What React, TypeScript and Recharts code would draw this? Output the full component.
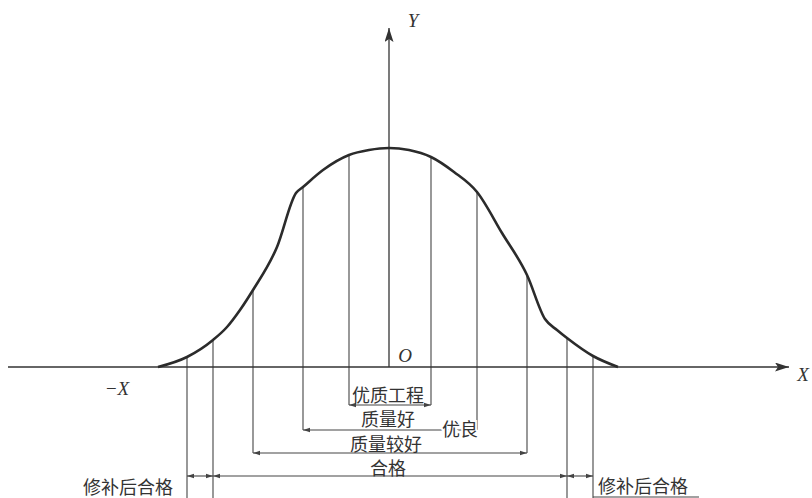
import {
  ComposedChart,
  Line,
  XAxis,
  YAxis,
  ReferenceLine,
  ReferenceDot,
} from "recharts";

// bell curve (x: offset from O, y: height above the X axis)
const curveX = [-23.1, -20.2, -17.6, -16.2, -14.9, -13.6, -11.2, -9.3, -8.6, -6.6, -4.0, -2.0, 0, 2.0, 4.2, 6.5, 8.8, 11.3, 13.8, 15.6, 16.8, 17.8, 20.4, 22.9];
const curveY = [0, 1.0, 2.7, 4.0, 5.7, 7.7, 12.0, 17.4, 18.0, 19.7, 21.2, 21.7, 21.9, 21.7, 21.0, 19.5, 17.5, 13.4, 9.2, 4.8, 3.7, 2.9, 1.1, 0];

// vertical cut lines: position and how far down they reach
const cutX = [-20.2, -17.6, -13.6, -8.6, -4.0, 4.2, 8.8, 13.8, 17.8, 20.4];
const cutFoot = [-13.1, -13.1, -8.6, -6.3, -3.8, -3.8, -6.3, -8.6, -13.1, -13.1];

// grade bands (dimension lines under the axis)
const bandNames = ["优质工程", "质量好", "质量较好", "合格"];
const bandFrom = [-4.0, -8.6, -13.6, -17.6];
const bandTo = [4.2, 8.8, 13.8, 17.8];
const bandLevel = [-3.8, -6.3, -8.6, -10.9];

const repairName = "修补后合格";
const repairFrom = [-20.2, 17.8];
const repairTo = [-17.6, 20.4];

const groupName = "优良";

const X_DOMAIN = [-38.9, 42.3];
const Y_DOMAIN = [-13.1, 36.7];
const X_END = 40.0;
const X_START = -38.1;
const Y_END = 33.9;

const INK = "#333";
const CJK = "'Noto Sans CJK SC', 'Noto Sans', sans-serif";
const SERIF = "'Liberation Serif', 'DejaVu Serif', serif";

const data = curveX.map((x, i) => ({ x, y: curveY[i] }));
const heightAt = (x: number) => curveY[curveX.indexOf(x)];

// label nudges (px) for the band names, in bandNames order
const bandDx = [-2, -2, -4, -2];
const bandDy = [-11, -12, -10, -9];

const axisShape = (p: any) => (
  <line x1={p.x1} y1={p.y1} x2={p.x2} y2={p.y2} stroke={INK} strokeWidth={1.3} markerEnd="url(#axis-arrow)" />
);
const dimShape = (p: any) => (
  <line
    x1={p.x1}
    y1={p.y1}
    x2={p.x2}
    y2={p.y2}
    stroke="#444"
    strokeWidth={1.1}
    markerStart="url(#dim-arrow)"
    markerEnd="url(#dim-arrow)"
  />
);
const plainShape = (p: any) => (
  <line x1={p.x1} y1={p.y1} x2={p.x2} y2={p.y2} stroke="#444" strokeWidth={1.1} />
);

const textShape =
  (value: string, opts: { dx?: number; dy?: number; anchor?: string; serif?: boolean; mask?: boolean }) =>
  (p: any) => (
    <text
      x={p.cx + (opts.dx ?? 0)}
      y={p.cy + (opts.dy ?? 0)}
      textAnchor={opts.anchor ?? "middle"}
      dominantBaseline="central"
      fontFamily={opts.serif ? SERIF : CJK}
      fontStyle={opts.serif ? "italic" : "normal"}
      fontSize={opts.serif ? 19 : 18}
      fill={INK}
      stroke={opts.mask ? "#fff" : "none"}
      strokeWidth={opts.mask ? 4 : 0}
      paintOrder="stroke"
    >
      {value}
    </text>
  );

export default function App() {
  return (
    <div style={{ position: "absolute", left: 0, top: 0, background: "#fff" }}>
      <ComposedChart width={812} height={498} data={data} margin={{ top: 0, right: 0, bottom: 0, left: 0 }}>
        <defs>
          <marker id="axis-arrow" markerWidth={15} markerHeight={10} refX={14} refY={4.5} orient="auto" markerUnits="userSpaceOnUse">
            <path d="M0,0 L14,4.5 L0,9 L3,4.5 Z" fill={INK} />
          </marker>
          <marker id="dim-arrow" markerWidth={8} markerHeight={6} refX={7} refY={3} orient="auto-start-reverse" markerUnits="userSpaceOnUse">
            <path d="M0,0.8 L7,3 L0,5.2 Z" fill="#444" />
          </marker>
        </defs>
        <XAxis dataKey="x" type="number" domain={X_DOMAIN} allowDataOverflow hide />
        <YAxis type="number" domain={Y_DOMAIN} allowDataOverflow hide />

        {cutX.map((x, i) => (
          <ReferenceLine
            key={`cut-${i}`}
            segment={[{ x, y: heightAt(x) }, { x, y: cutFoot[i] }]}
            ifOverflow="visible"
            shape={plainShape}
          />
        ))}

        {bandNames.map((n, i) => (
          <ReferenceLine
            key={`band-${n}`}
            segment={[{ x: bandFrom[i], y: bandLevel[i] }, { x: bandTo[i], y: bandLevel[i] }]}
            ifOverflow="visible"
            shape={dimShape}
          />
        ))}
        {repairFrom.map((x, i) => (
          <ReferenceLine
            key={`repair-${i}`}
            segment={[{ x, y: bandLevel[3] }, { x: repairTo[i], y: bandLevel[3] }]}
            ifOverflow="visible"
            shape={dimShape}
          />
        ))}
        <ReferenceLine
          segment={[{ x: repairTo[1], y: -13.0 }, { x: 31.0, y: -13.0 }]}
          ifOverflow="visible"
          shape={plainShape}
        />

        <ReferenceLine segment={[{ x: X_START, y: 0 }, { x: X_END, y: 0 }]} ifOverflow="visible" shape={axisShape} />
        <ReferenceLine segment={[{ x: 0, y: 0 }, { x: 0, y: Y_END }]} ifOverflow="visible" shape={axisShape} />

        <Line
          type="monotone"
          dataKey="y"
          stroke="#2b2b2b"
          strokeWidth={2.6}
          dot={false}
          activeDot={false}
          isAnimationActive={false}
        />

        {bandNames.map((n, i) => (
          <ReferenceDot
            key={`lbl-${n}`}
            x={(bandFrom[i] + bandTo[i]) / 2}
            y={bandLevel[i]}
            r={0}
            ifOverflow="visible"
            shape={textShape(n, { dx: bandDx[i], dy: bandDy[i] })}
          />
        ))}
        <ReferenceDot
          x={bandTo[1]}
          y={bandLevel[1]}
          r={0}
          ifOverflow="visible"
          shape={textShape(groupName, { anchor: "end", dx: 1, dy: -2, mask: true })}
        />
        <ReferenceDot
          x={repairFrom[0]}
          y={bandLevel[3]}
          r={0}
          ifOverflow="visible"
          shape={textShape(repairName, { anchor: "end", dx: -14, dy: 10 })}
        />
        <ReferenceDot
          x={repairTo[1]}
          y={bandLevel[3]}
          r={0}
          ifOverflow="visible"
          shape={textShape(repairName, { anchor: "start", dx: 5, dy: 9 })}
        />

        <ReferenceDot x={X_END} y={0} r={0} ifOverflow="visible" shape={textShape("X", { serif: true, dx: 14, dy: 7 })} />
        <ReferenceDot x={X_START} y={0} r={0} ifOverflow="visible" shape={textShape("−X", { serif: true, dx: 109, dy: 21 })} />
        <ReferenceDot x={0} y={Y_END} r={0} ifOverflow="visible" shape={textShape("Y", { serif: true, dx: 24, dy: -8 })} />
        <ReferenceDot x={0} y={0} r={0} ifOverflow="visible" shape={textShape("O", { serif: true, dx: 16, dy: -12 })} />
      </ComposedChart>
    </div>
  );
}
